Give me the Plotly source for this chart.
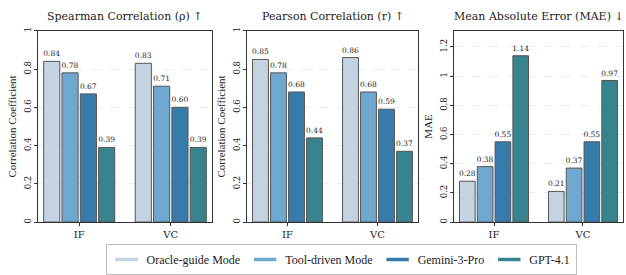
import plotly.graph_objects as go

categories = ["IF", "VC"]
methods = ["Oracle-guide Mode", "Tool-driven Mode", "Gemini-3-Pro", "GPT-4.1"]
colors = ["#c3d3e1", "#6fa7cf", "#377bab", "#37838e"]

spearman = {
    "Oracle-guide Mode": [0.84, 0.83],
    "Tool-driven Mode": [0.78, 0.71],
    "Gemini-3-Pro": [0.67, 0.60],
    "GPT-4.1": [0.39, 0.39],
}
pearson = {
    "Oracle-guide Mode": [0.85, 0.86],
    "Tool-driven Mode": [0.78, 0.68],
    "Gemini-3-Pro": [0.68, 0.59],
    "GPT-4.1": [0.44, 0.37],
}
mae = {
    "Oracle-guide Mode": [0.28, 0.21],
    "Tool-driven Mode": [0.38, 0.37],
    "Gemini-3-Pro": [0.55, 0.55],
    "GPT-4.1": [1.14, 0.97],
}

panel_titles = ["Spearman Correlation (ρ) ↑", "Pearson Correlation (r) ↑", "Mean Absolute Error (MAE) ↓"]
y_titles = ["Correlation Coefficient", "Correlation Coefficient", "MAE"]
corr_ticks = [0, 0.2, 0.4, 0.6, 0.8, 1.0]
corr_ticktext = ["0", "0.2", "0.4", "0.6", "0.8", "1"]
mae_ticks = [0, 0.2, 0.4, 0.6, 0.8, 1.0, 1.2]
mae_ticktext = ["0", "0.2", "0.4", "0.6", "0.8", "1", "1.2"]

W, H = 626, 275
x_px = [(38, 212), (247, 418), (454, 623)]
y_top, y_bot = 28, 228

TICKFONT = "'DejaVu Serif', serif"
TEXTFONT = "'Liberation Serif', serif"

fig = go.Figure()
datasets = [spearman, pearson, mae]
for p, data in enumerate(datasets):
    xa = "x" if p == 0 else f"x{p+1}"
    ya = "y" if p == 0 else f"y{p+1}"
    for m, c in zip(methods, colors):
        fig.add_trace(go.Bar(
            x=categories, y=data[m], name=m, xaxis=xa, yaxis=ya,
            marker=dict(color=c, line=dict(color="#555555", width=1)),
            text=[f"{v:.2f}" for v in data[m]], textposition="outside",
            textfont=dict(family=TICKFONT, size=7.5, color="#222222"),
            constraintext="none", cliponaxis=False, showlegend=False,
            offsetgroup=m, hoverinfo="skip",
        ))

# legend entries as short line symbols
for m, c in zip(methods, colors):
    fig.add_trace(go.Scatter(x=[None], y=[None], mode="markers", name=m,
                             marker=dict(symbol="line-ew", size=16, line=dict(color=c, width=3.5)),
                             xaxis="x", yaxis="y"))

layout = dict(
    width=W, height=H, margin=dict(l=0, r=0, t=0, b=0),
    paper_bgcolor="white", plot_bgcolor="white",
    barmode="group", bargap=0.2, bargroupgap=0.12,
    showlegend=True,
    legend=dict(orientation="h", x=341 / W, xanchor="center", y=1 - 251 / H, yanchor="top",
                bordercolor="#bbbbbb", borderwidth=1, bgcolor="white",
                font=dict(family=TEXTFONT, size=12, color="#222222"),
                itemwidth=30, tracegroupgap=0),
)
annotations = []
for p in range(3):
    sx = "" if p == 0 else str(p + 1)
    x0, x1 = x_px[p]
    is_mae = p == 2
    layout[f"xaxis{sx}"] = dict(
        domain=[x0 / W, x1 / W], anchor=f"y{sx}", type="category",
        range=[-0.45, 1.45], showline=True, mirror=True, linecolor="#333333", linewidth=1,
        ticks="outside", ticklen=3, tickcolor="#333333",
        tickfont=dict(family=TICKFONT, size=10, color="#222222"), showgrid=False,
    )
    layout[f"yaxis{sx}"] = dict(
        domain=[(H - y_bot) / H, (H - y_top) / H], anchor=f"x{sx}",
        range=[0, 1.311] if is_mae else [0, 1.0],
        tickvals=mae_ticks if is_mae else corr_ticks,
        ticktext=mae_ticktext if is_mae else corr_ticktext,
        tickangle=-90, showline=True, mirror=True, linecolor="#333333", linewidth=1,
        ticks="outside", ticklen=3, tickcolor="#333333",
        tickfont=dict(family=TICKFONT, size=8.5, color="#222222"),
        showgrid=True, gridcolor="#ececec", griddash="dash", gridwidth=0.6,
        zeroline=False,
        title=dict(text=y_titles[p], font=dict(family=TEXTFONT, size=11, color="#222222"), standoff=3),
    )
    annotations.append(dict(
        text=panel_titles[p], x=(x0 + x1) / 2 / W, y=1 - 13 / H, xref="paper", yref="paper",
        xanchor="center", yanchor="middle", showarrow=False,
        font=dict(family=TICKFONT, size=11, color="#222222"),
    ))
layout["annotations"] = annotations
fig.update_layout(**layout)
fig.write_html("out.html", config={"displayModeBar": False},
               post_script="document.body.style.margin='0';")
